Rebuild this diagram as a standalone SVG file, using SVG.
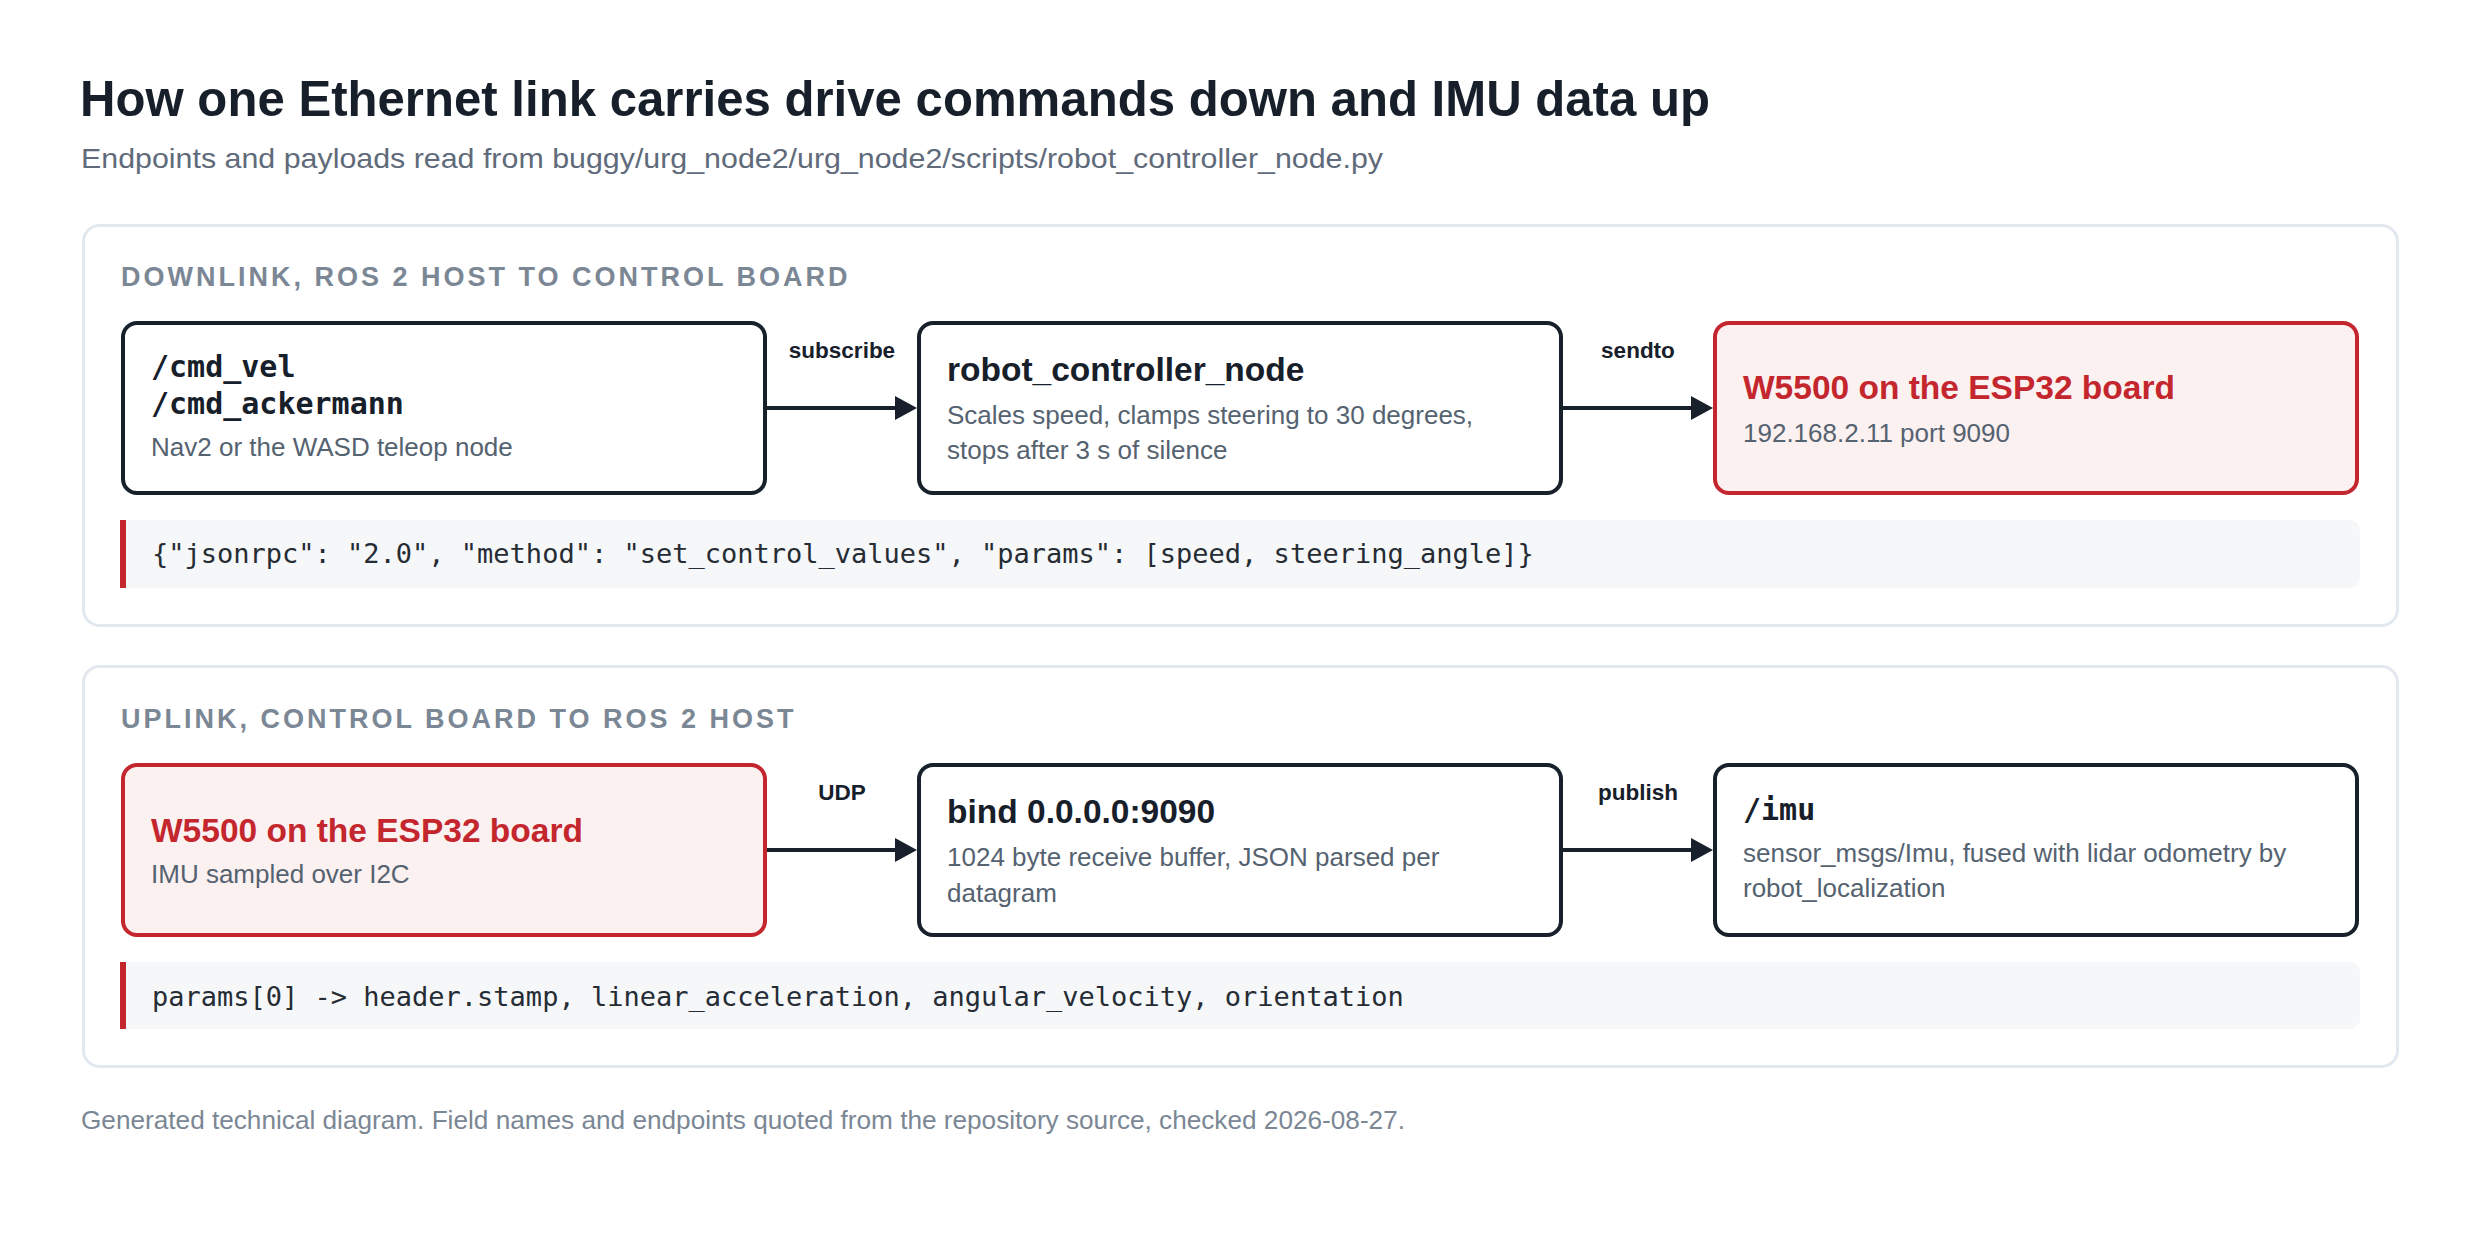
<svg xmlns="http://www.w3.org/2000/svg" width="2480" height="1240" viewBox="0 0 2480 1240">
  <defs>
    <marker id="arrow" markerUnits="userSpaceOnUse" markerWidth="22" markerHeight="24" refX="5" refY="12" orient="auto">
      <path d="M0,0 L22,12 L0,24 Z" fill="#18212b"/>
    </marker>
    <style>
      .title { font-family: "Liberation Sans", Arial, sans-serif; font-weight: bold; font-size: 50px; fill: #17202a; }
      .subtitle { font-family: "Liberation Sans", Arial, sans-serif; font-size: 28px; fill: #5f6b7a; }
      .section { font-family: "Liberation Sans", Arial, sans-serif; font-weight: bold; font-size: 27px; fill: #7b8794; letter-spacing: 3px; }
      .panel { fill: #ffffff; stroke: #e2e8f0; stroke-width: 3; }
      .node { fill: #ffffff; stroke: #18212b; stroke-width: 4; }
      .node-red { fill: #fcf1f1; stroke: #c4262e; stroke-width: 4; }
      .ntitle { font-family: "Liberation Sans", Arial, sans-serif; font-weight: bold; font-size: 33.5px; fill: #17202a; }
      .ntitle-red { font-family: "Liberation Sans", Arial, sans-serif; font-weight: bold; font-size: 33.5px; fill: #c4262e; }
      .nmono { font-family: "DejaVu Sans Mono", "Liberation Mono", monospace; font-weight: bold; font-size: 30px; fill: #17202a; }
      .desc { font-family: "Liberation Sans", Arial, sans-serif; font-size: 26px; fill: #556270; }
      .elabel { font-family: "Liberation Sans", Arial, sans-serif; font-weight: bold; font-size: 22.5px; fill: #17202a; text-anchor: middle; }
      .edge { stroke: #18212b; stroke-width: 4; fill: none; marker-end: url(#arrow); }
      .codebg { fill: #f5f7f9; }
      .codebar { fill: #c4262e; }
      .code { font-family: "DejaVu Sans Mono", "Liberation Mono", monospace; font-size: 27px; fill: #262c34; }
      .footer { font-family: "Liberation Sans", Arial, sans-serif; font-size: 26px; fill: #7b8794; }
    </style>
  </defs>

  <rect x="0" y="0" width="2480" height="1240" fill="#ffffff"/>

  <g id="header">
    <text class="title" x="80" y="116" textLength="1630" lengthAdjust="spacingAndGlyphs">How one Ethernet link carries drive commands down and IMU data up</text>
    <text class="subtitle" x="81" y="168" textLength="1302" lengthAdjust="spacingAndGlyphs">Endpoints and payloads read from buggy/urg_node2/urg_node2/scripts/robot_controller_node.py</text>
  </g>

  <g id="panel-downlink">
    <rect class="panel" x="83.5" y="225.5" width="2314" height="400" rx="16"/>
    <text class="section" x="121" y="286">DOWNLINK, ROS 2 HOST TO CONTROL BOARD</text>
  </g>

  <g id="panel-uplink">
    <rect class="panel" x="83.5" y="666.5" width="2314" height="400" rx="16"/>
    <text class="section" x="121" y="728">UPLINK, CONTROL BOARD TO ROS 2 HOST</text>
  </g>

  <g id="node-cmd-topics">
    <rect class="node" x="123" y="323" width="642" height="170" rx="14"/>
    <text class="nmono" x="151" y="377">/cmd_vel</text>
    <text class="nmono" x="151" y="414">/cmd_ackermann</text>
    <text class="desc" x="151" y="456">Nav2 or the WASD teleop node</text>
  </g>

  <g id="node-robot-controller">
    <rect class="node" x="919" y="323" width="642" height="170" rx="14"/>
    <text class="ntitle" x="947" y="381">robot_controller_node</text>
    <text class="desc" x="947" y="424">Scales speed, clamps steering to 30 degrees,</text>
    <text class="desc" x="947" y="459">stops after 3 s of silence</text>
  </g>

  <g id="node-w5500-down">
    <rect class="node-red" x="1715" y="323" width="642" height="170" rx="14"/>
    <text class="ntitle-red" x="1743" y="399">W5500 on the ESP32 board</text>
    <text class="desc" x="1743" y="442">192.168.2.11 port 9090</text>
  </g>

  <g id="payload-downlink">
    <path class="codebg" d="M120,520 H2350 A10,10 0 0 1 2360,530 V578 A10,10 0 0 1 2350,588 H120 Z"/>
    <rect class="codebar" x="120" y="520" width="6" height="68"/>
    <text class="code" x="152" y="563">{"jsonrpc": "2.0", "method": "set_control_values", "params": [speed, steering_angle]}</text>
  </g>

  <g id="node-w5500-up">
    <rect class="node-red" x="123" y="765" width="642" height="170" rx="14"/>
    <text class="ntitle-red" x="151" y="842">W5500 on the ESP32 board</text>
    <text class="desc" x="151" y="883">IMU sampled over I2C</text>
  </g>

  <g id="node-bind">
    <rect class="node" x="919" y="765" width="642" height="170" rx="14"/>
    <text class="ntitle" x="947" y="823">bind 0.0.0.0:9090</text>
    <text class="desc" x="947" y="866">1024 byte receive buffer, JSON parsed per</text>
    <text class="desc" x="947" y="902">datagram</text>
  </g>

  <g id="node-imu">
    <rect class="node" x="1715" y="765" width="642" height="170" rx="14"/>
    <text class="nmono" x="1743" y="820">/imu</text>
    <text class="desc" x="1743" y="862">sensor_msgs/Imu, fused with lidar odometry by</text>
    <text class="desc" x="1743" y="897">robot_localization</text>
  </g>

  <g id="payload-uplink">
    <path class="codebg" d="M120,962 H2350 A10,10 0 0 1 2360,972 V1019 A10,10 0 0 1 2350,1029 H120 Z"/>
    <rect class="codebar" x="120" y="962" width="6" height="67"/>
    <text class="code" x="152" y="1006">params[0] -&gt; header.stamp, linear_acceleration, angular_velocity, orientation</text>
  </g>

  <g id="connectors">
    <line class="edge" x1="767" y1="408" x2="900" y2="408"/>
    <text class="elabel" x="842" y="358">subscribe</text>
    <line class="edge" x1="1563" y1="408" x2="1696" y2="408"/>
    <text class="elabel" x="1638" y="358">sendto</text>
    <line class="edge" x1="767" y1="850" x2="900" y2="850"/>
    <text class="elabel" x="842" y="800">UDP</text>
    <line class="edge" x1="1563" y1="850" x2="1696" y2="850"/>
    <text class="elabel" x="1638" y="800">publish</text>
  </g>

  <g id="footer">
    <text class="footer" x="81" y="1129" textLength="1324" lengthAdjust="spacingAndGlyphs">Generated technical diagram. Field names and endpoints quoted from the repository source, checked 2026-08-27.</text>
  </g>
</svg>
